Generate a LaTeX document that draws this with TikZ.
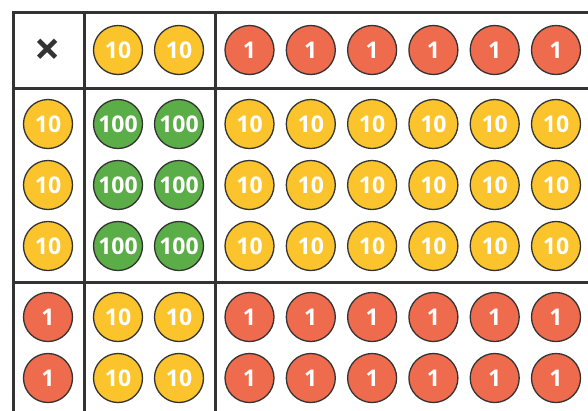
\documentclass[tikz,border=0pt]{standalone}
\usepackage{fontspec}
\setmainfont{Open Sans}
\definecolor{coinY}{HTML}{FCC42C}
\definecolor{coinR}{HTML}{EE6B4E}
\definecolor{coinG}{HTML}{5BAE47}
\definecolor{ink}{HTML}{333333}
\begin{document}
\begin{tikzpicture}[x=1pt,y=-1pt,
  coin/.style={circle,draw=ink,line width=1.3pt,minimum size=49pt,inner sep=0pt,
    text=white,font=\bfseries\fontsize{23}{23}\selectfont},
  ten/.style={coin,fill=coinY},
  one/.style={coin,fill=coinR},
  hund/.style={coin,fill=coinG},
  gridline/.style={draw=ink,line width=3pt}]
\useasboundingbox (0,0) rectangle (588,410);
% grid
\draw[gridline] (13,412) -- (13,12) -- (590,12);
\draw[gridline] (84,12) -- (84,412);
\draw[gridline] (215,12) -- (215,412);
\draw[gridline] (13,88) -- (590,88);
\draw[gridline] (13,282) -- (590,282);
% corner
\node[text=ink,font=\bfseries\fontsize{46}{46}\selectfont] (times) at (48,52) {×};
% header row
\node[ten] (h10a) at (118,50) {10};
\node[ten] (h10b) at (179,50) {10};
\foreach \k in {0,...,5}{
  \node[one] (h1-\k) at (249.5+61.3*\k,50) {1};
}
% rows with 10 on the left
\foreach \y [count=\r] in {124,185,246}{
  \node[ten] (l10-\r) at (48,\y) {10};
  \node[hund] (c100a-\r) at (118,\y) {100};
  \node[hund] (c100b-\r) at (179,\y) {100};
  \foreach \k in {0,...,5}{
    \node[ten] (r10-\r-\k) at (249.5+61.3*\k,\y) {10};
  }
}
% rows with 1 on the left
\foreach \y [count=\r] in {317,378}{
  \node[one] (l1-\r) at (48,\y) {1};
  \node[ten] (c10a-\r) at (118,\y) {10};
  \node[ten] (c10b-\r) at (179,\y) {10};
  \foreach \k in {0,...,5}{
    \node[one] (r1-\r-\k) at (249.5+61.3*\k,\y) {1};
  }
}
\end{tikzpicture}
\end{document}
